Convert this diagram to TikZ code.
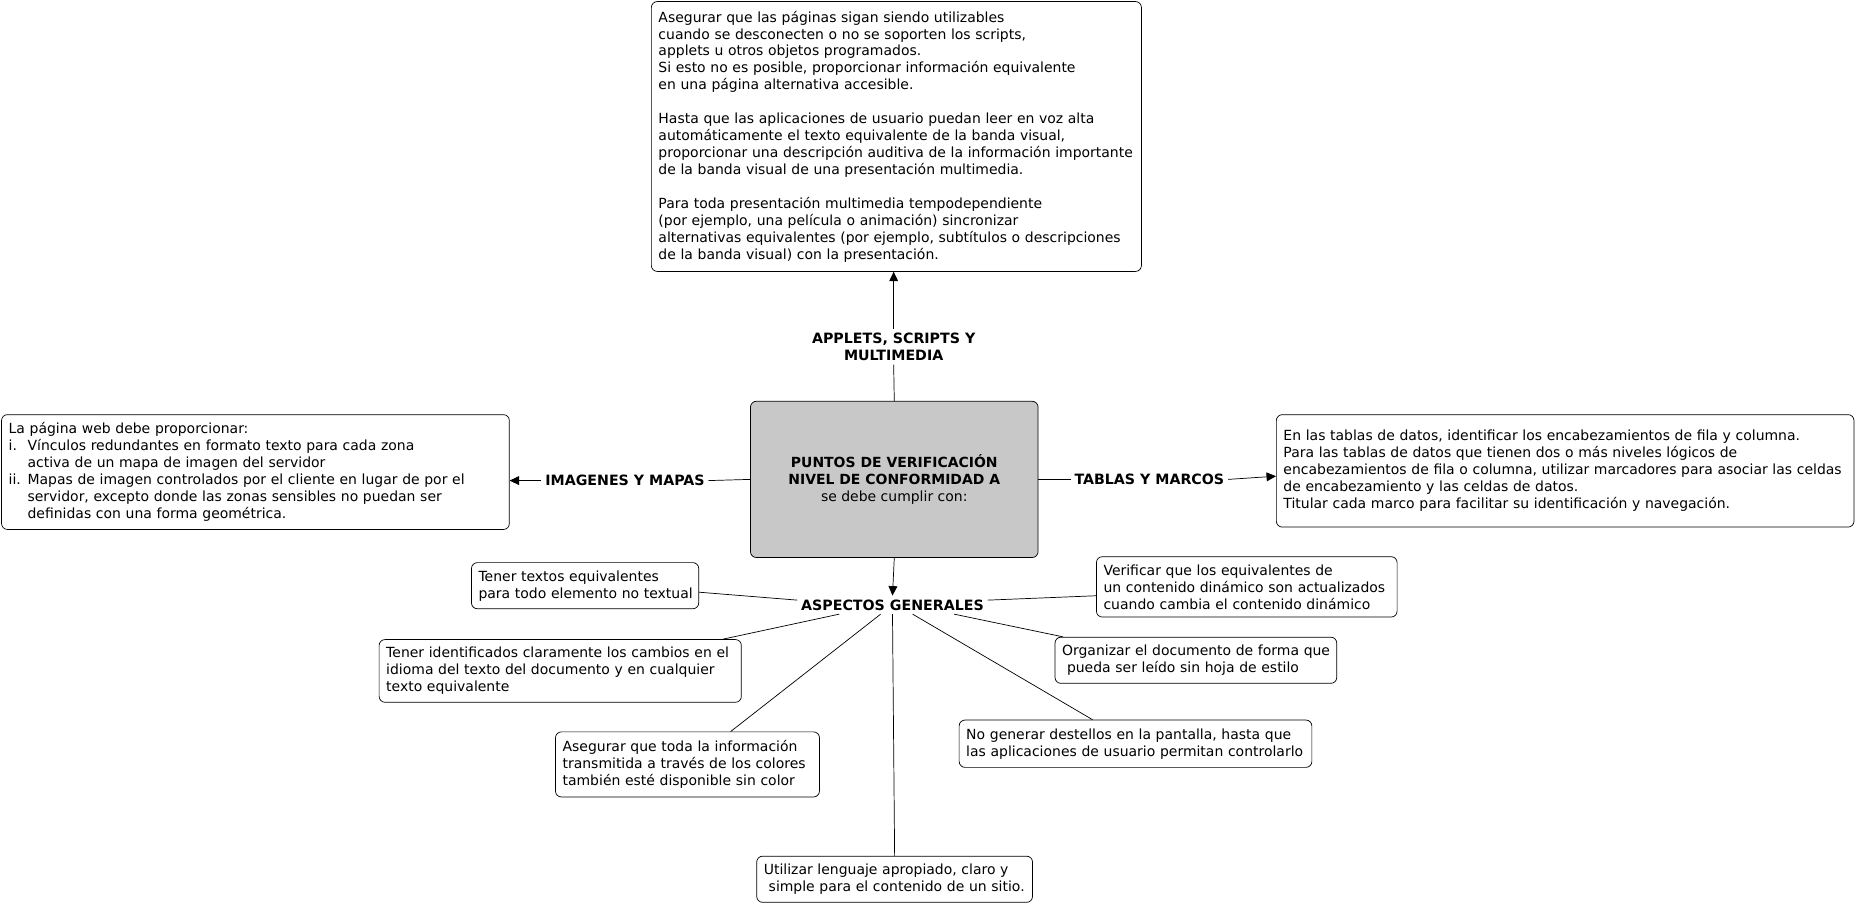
\documentclass[tikz,border=0pt]{standalone}
\usepackage{fontspec}
\setmainfont{DejaVu Sans}
\usetikzlibrary{arrows.meta,calc}
\definecolor{cgray}{RGB}{200,200,200}
\newcommand{\bodyfont}{\fontsize{11.8}{14.3}\selectfont}
\newcommand{\lblfont}{\fontsize{12}{14.3}\selectfont}
\newcommand{\myline}[1]{\mbox{#1}}
\tikzset{
  txtbox/.style={draw, rounded corners=5pt, inner xsep=6pt, inner ysep=3pt, align=left, anchor=north west},
  lbl/.style={font=\lblfont\bfseries, inner sep=3pt, align=center},
  arr/.style={-{Triangle[length=8pt,width=7.5pt]}}
}
\begin{document}
\begin{tikzpicture}[x=1pt, y=-1pt, font=\bodyfont, line width=0.6pt]
\useasboundingbox (0,0) rectangle (1568,764);

% central node
\node[draw, fill=cgray, rounded corners=5pt, minimum width=243pt, minimum height=132pt, align=center] (cen) at (755.5,405)
  {\textbf{PUNTOS DE VERIFICACIÓN}\\\textbf{NIVEL DE CONFORMIDAD A}\\se debe cumplir con:};

% top box
\node[txtbox, text width=402pt, minimum height=228pt] (top) at (550,1) {%
\myline{Asegurar que las páginas sigan siendo utilizables}\\
\myline{cuando se desconecten o no se soporten los scripts,}\\
\myline{applets u otros objetos programados.}\\
\myline{Si esto no es posible, proporcionar información equivalente}\\
\myline{en una página alternativa accesible.}\\[14.3pt]
\myline{Hasta que las aplicaciones de usuario puedan leer en voz alta}\\
\myline{automáticamente el texto equivalente de la banda visual,}\\
\myline{proporcionar una descripción auditiva de la información importante}\\
\myline{de la banda visual de una presentación multimedia.}\\[14.3pt]
\myline{Para toda presentación multimedia tempodependiente}\\
\myline{(por ejemplo, una película o animación) sincronizar}\\
\myline{alternativas equivalentes (por ejemplo, subtítulos o descripciones}\\
\myline{de la banda visual) con la presentación.}};

% left box
\node[txtbox, text width=417pt, minimum height=97pt] (lb) at (1,350) {%
\myline{La página web debe proporcionar:}\\
\myline{\makebox[16pt][l]{i.}Vínculos redundantes en formato texto para cada zona}\\
\myline{\hspace*{16pt}activa de un mapa de imagen del servidor}\\
\myline{\makebox[16pt][l]{ii.}Mapas de imagen controlados por el cliente en lugar de por el}\\
\myline{\hspace*{16pt}servidor, excepto donde las zonas sensibles no puedan ser}\\
\myline{\hspace*{16pt}definidas con una forma geométrica.}};

% right box
\node[txtbox, text width=476pt, minimum height=95pt] (rb) at (1078,350) {%
\myline{En las tablas de datos, identificar los encabezamientos de fila y columna.}\\
\myline{Para las tablas de datos que tienen dos o más niveles lógicos de}\\
\myline{encabezamientos de fila o columna, utilizar marcadores para asociar las celdas}\\
\myline{de encabezamiento y las celdas de datos.}\\
\myline{Titular cada marco para facilitar su identificación y navegación.}};

% labels
\node[lbl] (app) at (755,293) {APPLETS, SCRIPTS Y\\MULTIMEDIA};
\node[lbl] (img) at (528,406) {IMAGENES Y MAPAS};
\node[lbl] (tab) at (971,405) {TABLAS Y MARCOS};
\node[lbl] (asp) at (754,511) {ASPECTOS GENERALES};

% lower boxes
\node[txtbox, text width=180pt, minimum height=39pt] (t1) at (398,475) {%
\myline{Tener textos equivalentes}\\\myline{para todo elemento no textual}};
\node[txtbox, text width=242pt, minimum height=51pt] (t2) at (926,470) {%
\myline{Verificar que los equivalentes de}\\\myline{un contenido dinámico son actualizados}\\\myline{cuando cambia el contenido dinámico}};
\node[txtbox, text width=294pt, minimum height=53pt] (t3) at (320,540) {%
\myline{Tener identificados claramente los cambios en el}\\\myline{idioma del texto del documento y en cualquier}\\\myline{texto equivalente}};
\node[txtbox, text width=226pt, minimum height=39pt] (t4) at (891,538) {%
\myline{Organizar el documento de forma que}\\\myline{\hspace*{0.35em}pueda ser leído sin hoja de estilo}};
\node[txtbox, text width=211pt, minimum height=55pt] (t5) at (469,618) {%
\myline{Asegurar que toda la información}\\\myline{transmitida a través de los colores}\\\myline{también esté disponible sin color}};
\node[txtbox, text width=286pt, minimum height=40pt] (t6) at (810,608) {%
\myline{No generar destellos en la pantalla, hasta que}\\\myline{las aplicaciones de usuario permitan controlarlo}};
\node[txtbox, text width=221pt, minimum height=39pt] (t7) at (639,723) {%
\myline{Utilizar lenguaje apropiado, claro y}\\\myline{\hspace*{0.35em}simple para el contenido de un sitio.}};

% main connectors
\draw (cen.north) -- (app.south);
\draw[arr] (app.north) -- (app.north |- top.south);
\draw (cen.west) -- (img.east);
\draw[arr] (img.west) -- (img.west -| lb.east);
\draw (cen.east) -- (tab.west);
\draw[arr] (tab.east) -- ($(rb.west)+(0,4.5)$);
\draw[arr] (cen.south) -- (asp.north);

% attachment points on label
\coordinate (a1) at ($(asp.south)+(-45,0)$);
\coordinate (a2) at ($(asp.south)+(-10,0)$);
\coordinate (a3) at ($(asp.south)+(0,0)$);
\coordinate (a4) at ($(asp.south)+(17,0)$);
\coordinate (a5) at ($(asp.south)+(52,0)$);

\draw ($(t1.east)+(0,5.5)$) -- ($(asp.west)+(0,-4)$);
\draw ($(t2.west)+(0,7.5)$) -- ($(asp.east)+(0,-4)$);
\draw ($(t3.north east)+(-16,0)$) -- (a1);
\draw ($(t4.north west)+(7,0)$) -- (a5);
\draw ($(t5.north)+(36.5,0)$) -- (a2);
\draw ($(t6.north west)+(113,0)$) -- (a4);
\draw (t7.north) -- (a3);
\end{tikzpicture}
\end{document}
